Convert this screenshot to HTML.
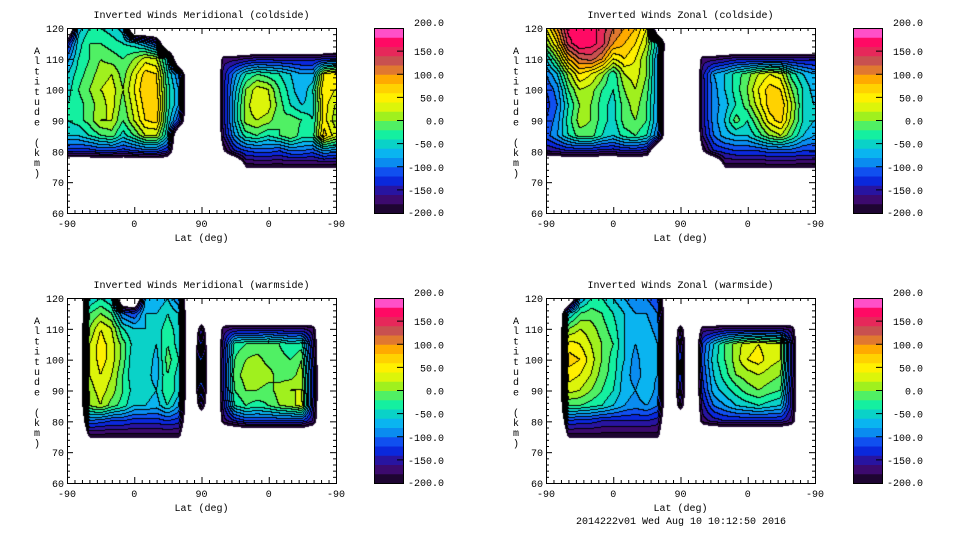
<!DOCTYPE html>
<html><head><meta charset="utf-8"><style>
html,body{margin:0;padding:0;background:#fff;}
#root{position:relative;width:960px;height:540px;overflow:hidden;background:#fff;font-family:"Liberation Mono",monospace;}
canvas{position:absolute;}
svg{position:absolute;left:0;top:0;}
</style></head><body>
<div id="root">
<svg id="svg" width="960" height="540"></svg>
</div>
<script>
const N = null;
const altRows = [120,115,110,105,100,95,90,85,80,75,70];
const xTickLabels = ["-90","0","90","0","-90"];
const yTickLabels = [60,70,80,90,100,110,120];
const cbarLabels = ["200.0","150.0","100.0","50.0","0.0","-50.0","-100.0","-150.0","-200.0"];
const bandColors = ["#1e0532","#3c0a6e","#2814a0","#0a28dc","#1050f0","#0a8cf0","#0ab4f0","#0ad2c8","#14f0a0","#50f064","#a0f01e","#dcf50a","#fff000","#ffd200","#ffaa00","#e07830","#c85050","#e6285a","#ff0a64","#ff50c8"];

const meridCold = [
[N,-70,-40,-40,-50,-70,N,N,N,N,N,N,N,N,N,N,N,N,N,N,N,N,N,N,N],
[-140,-50,-20,-20,-30,-40,-50,-80,-120,N,N,N,N,N,N,N,N,N,N,N,N,N,N,N,N],
[-90,-40,-20,0,-10,-20,0,30,20,-60,N,N,N,N,-170,-170,-160,-150,-150,-150,-150,-150,-150,-140,-140],
[-60,-30,-10,10,20,-10,30,70,60,-40,-100,N,N,N,-150,-90,-40,-20,-30,-40,-60,-80,-80,40,60],
[-50,-20,0,20,30,0,40,80,70,-30,-80,N,N,N,-150,-70,0,30,20,-20,-50,-80,-40,60,40],
[-40,-30,-10,10,30,-10,30,70,80,-30,-80,N,N,N,-150,-60,10,40,30,-10,-40,-60,-50,50,20],
[-40,-30,-10,20,20,-20,20,60,70,-40,-120,N,N,N,-150,-60,10,20,10,-20,-10,-20,-40,50,10],
[-60,-60,-40,-20,-10,-50,-20,20,20,-60,N,N,N,N,-160,-80,-30,-20,-40,-20,0,-30,-30,70,30],
[-130,-130,-130,-120,-120,-130,-120,-110,-110,-140,N,N,N,N,-200,-140,-120,-110,-110,-120,-100,-100,-110,-80,-90],
[N,N,N,N,N,N,N,N,N,N,N,N,N,N,N,N,-190,-190,-190,-190,-190,-190,-190,-190,-190],
[N,N,N,N,N,N,N,N,N,N,N,N,N,N,N,N,N,N,N,N,N,N,N,N,N]];

const zonalCold = [
[40,100,170,170,170,150,120,100,80,40,N,N,N,N,N,N,N,N,N,N,N,N,N,N,N],
[0,60,150,180,170,150,100,80,60,20,-60,N,N,N,N,N,N,N,N,N,N,N,N,N,N],
[-60,0,80,120,130,100,40,60,40,0,-80,N,N,N,-170,-170,-160,-150,-150,-150,-150,-150,-150,-150,-150],
[-100,-60,10,60,40,10,-40,20,30,0,-80,N,N,N,-150,-80,-60,-30,-10,20,40,30,-30,-60,-80],
[-120,-90,-20,20,10,-20,-40,0,20,-10,-80,N,N,N,-150,-90,-60,-30,0,40,70,60,0,-40,-70],
[-130,-100,-40,0,0,-30,-50,-10,10,-20,-80,N,N,N,-150,-90,-70,-40,-10,30,70,80,20,-40,-60],
[-120,-90,-30,10,0,-30,-50,-10,0,-20,-80,N,N,N,-150,-90,-60,-10,-40,0,50,70,10,-40,-60],
[-110,-80,-40,-10,-10,-40,-60,-30,-20,-40,-100,N,N,N,-160,-100,-70,-60,-60,-30,0,20,-20,-60,-80],
[-160,-150,-140,-140,-140,-150,-150,-140,-140,-150,N,N,N,N,-200,-140,-130,-120,-120,-120,-110,-110,-110,-120,-120],
[N,N,N,N,N,N,N,N,N,N,N,N,N,N,N,N,-190,-190,-190,-190,-190,-190,-190,-190,-190],
[N,N,N,N,N,N,N,N,N,N,N,N,N,N,N,N,N,N,N,N,N,N,N,N,N]];

const meridWarm = [
[N,N,-60,-40,-60,N,N,-80,-80,-60,-100,N,N,N,N,N,N,N,N,N,N,N,N,N,N],
[N,N,-20,0,-20,-100,-120,-60,-60,-40,-60,N,N,N,N,N,N,N,N,N,N,N,N,N,N],
[N,N,0,40,20,-40,-60,-60,-50,-30,-50,N,-150,N,-170,-160,-160,-160,-160,-160,-160,-160,-170,N,N],
[N,N,20,50,30,-10,-50,-40,-60,-20,-50,N,-120,N,-150,-30,-20,-20,-10,-20,-40,-30,-150,N,N],
[N,N,20,50,30,-10,-60,-40,-70,-10,-40,N,-100,N,-140,-20,0,10,-10,-10,-20,0,-140,N,N],
[N,N,20,40,20,-20,-60,-50,-70,-20,-50,N,-90,N,-140,-10,10,20,10,-10,-10,10,-130,N,N],
[N,N,10,30,10,-20,-50,-50,-60,-20,-50,N,-110,N,-140,-20,0,0,-10,10,20,20,-130,N,N],
[N,N,0,20,-10,-30,-60,-60,-70,-40,-80,N,-150,N,-150,-40,-20,-30,-20,0,10,30,-140,N,N],
[N,N,-100,-110,-120,-120,-130,-130,-130,-120,-130,N,N,N,-170,-140,-120,-120,-120,-120,-120,-120,-160,N,N],
[N,N,-190,-190,-190,-190,-190,-190,-190,-190,-190,N,N,N,N,N,N,N,N,N,N,N,N,N,N],
[N,N,N,N,N,N,N,N,N,N,N,N,N,N,N,N,N,N,N,N,N,N,N,N,N]];

const zonalWarm = [
[N,N,N,-80,-40,-40,-60,-80,-100,-100,-120,N,N,N,N,N,N,N,N,N,N,N,N,N,N],
[N,N,-60,-20,-10,-20,-40,-60,-80,-80,-100,N,N,N,N,N,N,N,N,N,N,N,N,N,N],
[N,N,0,20,10,-10,-30,-60,-80,-70,-90,N,-160,N,-170,-170,-160,-160,-160,-160,-160,-160,-170,N,N],
[N,N,50,40,20,0,-20,-60,-80,-60,-80,N,-130,N,-120,-60,-20,10,30,40,30,20,-140,N,N],
[N,N,70,60,30,0,-30,-60,-90,-60,-80,N,-120,N,-110,-50,-20,10,40,50,30,20,-140,N,N],
[N,N,50,40,20,-10,-30,-70,-90,-70,-80,N,-120,N,-120,-60,-30,0,10,20,10,0,-140,N,N],
[N,N,30,20,0,-20,-40,-70,-80,-60,-90,N,-130,N,-130,-70,-50,-30,-10,0,-10,-20,-150,N,N],
[N,N,-20,-20,-30,-40,-60,-80,-90,-80,-100,N,-160,N,-150,-100,-80,-60,-50,-40,-50,-60,-150,N,N],
[N,N,-120,-130,-130,-140,-140,-140,-140,-140,-150,N,N,N,-170,-150,-140,-140,-140,-140,-140,-140,-170,N,N],
[N,N,-190,-190,-190,-190,-190,-190,-190,-190,-190,N,N,N,N,N,N,N,N,N,N,N,N,N,N],
[N,N,N,N,N,N,N,N,N,N,N,N,N,N,N,N,N,N,N,N,N,N,N,N,N]];

const panelTitles = ["Inverted Winds Meridional (coldside)","Inverted Winds Zonal (coldside)","Inverted Winds Meridional (warmside)","Inverted Winds Zonal (warmside)"];
const panelGrids = [meridCold, zonalCold, meridWarm, zonalWarm];
const panelNames = ["meridional-coldside","zonal-coldside","meridional-warmside","zonal-warmside"];

const svg = document.getElementById('svg');
const root = document.getElementById('root');
const NS = 'http://www.w3.org/2000/svg';
function mk(tag, attrs, parent){const e=document.createElementNS(NS,tag);for(const k in attrs)e.setAttribute(k,attrs[k]);(parent||svg).appendChild(e);return e;}
function txt(x,y,s,anchor,parent){const t=mk('text',{x:x,y:y,'font-size':'10','font-family':'Liberation Mono, monospace','text-anchor':anchor||'middle',fill:'#000'},parent);t.textContent=s;return t;}

const PW=269, PH=185, NULLV=-300;
const layout=[{x:67,y:28},{x:546,y:28},{x:67,y:298},{x:546,y:298}];

function sampleGrid(g,t,alt){
  if(alt<70||alt>120)return NULLV;
  const fc=t/15, fr=(120-alt)/5;
  const c0=Math.min(Math.floor(fc),23), r0=Math.min(Math.floor(fr),9);
  const dc=fc-c0, dr=fr-r0;
  const v=(r,c)=>{const a=g[r][c];return a===null?NULLV:a;};
  return v(r0,c0)*(1-dc)*(1-dr)+v(r0,c0+1)*dc*(1-dr)+v(r0+1,c0)*(1-dc)*dr+v(r0+1,c0+1)*dc*dr;
}

panelGrids.forEach((g,pi)=>{
  const L=layout[pi];
  const grp=mk('g',{});
  
  
  const cv=document.createElement('canvas');
  cv.width=PW;cv.height=PH;cv.style.left=L.x+'px';cv.style.top=L.y+'px';
  
  
  root.insertBefore(cv,svg);
  const ctx=cv.getContext('2d');
  const img=ctx.createImageData(PW,PH);
  const band=new Int16Array(PW*PH);
  for(let y=0;y<PH;y++)for(let x=0;x<PW;x++){
    const t=x/(PW-1)*360, alt=120-y/(PH-1)*60;
    const v=sampleGrid(g,t,alt);
    band[y*PW+x]= v<-200?-1:Math.max(0,Math.min(19,Math.floor((v+200)/20)));
  }
  for(let y=0;y<PH;y++)for(let x=0;x<PW;x++){
    const b=band[y*PW+x], i=(y*PW+x)*4;
    if(b<0){img.data[i+3]=0;continue;}
    let edge=false;
    if(x+1<PW&&band[y*PW+x+1]!==b&&band[y*PW+x+1]>=0)edge=true;
    if(y+1<PH&&band[(y+1)*PW+x]!==b&&band[(y+1)*PW+x]>=0)edge=true;
    const c=bandColors[b];
    const r=parseInt(c.substr(1,2),16),gg=parseInt(c.substr(3,2),16),bb=parseInt(c.substr(5,2),16);
    if(edge){img.data[i]=0;img.data[i+1]=0;img.data[i+2]=0;}else{img.data[i]=r;img.data[i+1]=gg;img.data[i+2]=bb;}
    img.data[i+3]=255;
  }
  ctx.putImageData(img,0,0);
  const fr=mk('rect',{x:L.x+0.5,y:L.y+0.5,width:PW,height:PH,fill:'none',stroke:'#000','stroke-width':1},grp);
  
  
  for(let d=0;d<=360;d+=10){
    const x=L.x+0.5+d/360*PW, len=(d%90===0)?6:3;
    mk('line',{x1:x,y1:L.y+PH,x2:x,y2:L.y+PH-len,stroke:'#000'},grp);
    mk('line',{x1:x,y1:L.y,x2:x,y2:L.y+len,stroke:'#000'},grp);
  }
  xTickLabels.forEach((s,k)=>{const t=txt(L.x+k*PW/4,L.y+PH+14,s,'middle',grp);});
  for(let a=60;a<=120;a+=2){
    const y=L.y+0.5+(120-a)/60*PH, len=(a%10===0)?6:3;
    mk('line',{x1:L.x,y1:y,x2:L.x+len,y2:y,stroke:'#000'},grp);
    mk('line',{x1:L.x+PW,y1:y,x2:L.x+PW-len,y2:y,stroke:'#000'},grp);
  }
  yTickLabels.forEach(a=>{const t=txt(L.x-3,L.y+(120-a)/60*PH+4,String(a),'end',grp);});
  const ti=txt(L.x+PW/2,L.y-10,panelTitles[pi],'middle',grp);
  
  const xl=txt(L.x+PW/2,L.y+PH+28,'Lat (deg)','middle',grp);
  
  const ylg=mk('g',{},grp);
  
  'Altitude (km)'.split('').forEach((ch,k)=>{if(ch!==' ')txt(L.x-30,L.y+26+k*10.2,ch,'middle',ylg);});
  const cb=mk('g',{},grp);
  
  const cx=L.x+307, cw=29, bh=PH/bandColors.length;
  bandColors.forEach((c,k)=>{mk('rect',{x:cx,y:L.y+PH-(k+1)*bh,width:cw,height:bh+0.5,fill:c},cb);});
  mk('rect',{x:cx+0.5,y:L.y+0.5,width:cw,height:PH,fill:'none',stroke:'#000'},cb);
  cbarLabels.forEach((s,k)=>{
    const y=L.y+k*PH/8;
    if(k>0&&k<8)mk('line',{x1:cx+cw-6,y1:y,x2:cx+cw,y2:y,stroke:'#000'},cb);
    txt(cx+70,y+(k===0?-2:k===8?3:4),s,'end',cb);
  });
});
const ft=txt(681,524,'2014222v01 Wed Aug 10 10:12:50 2016','middle');

</script>
</body></html>
